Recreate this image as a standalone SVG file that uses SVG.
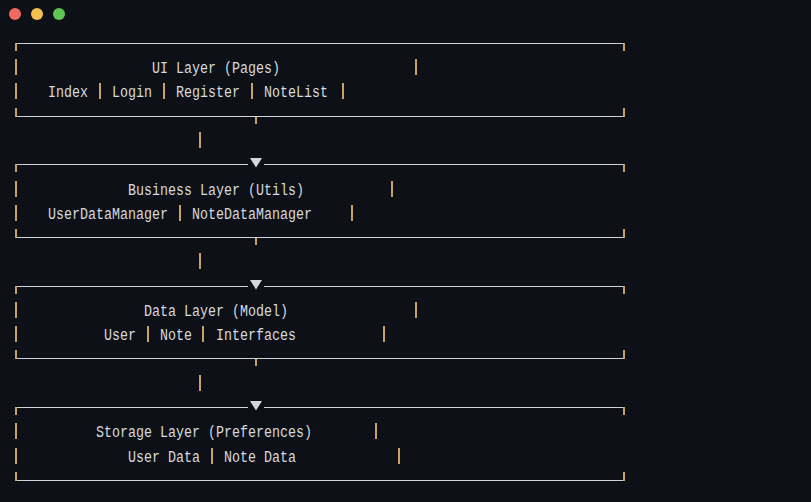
<svg xmlns="http://www.w3.org/2000/svg" width="811" height="502" viewBox="0 0 811 502">
<style>
.bg{fill:#0d1117}
.t{font-family:"Liberation Mono","DejaVu Sans Mono",monospace;font-size:16px;fill:#d6d9df}
.hl{fill:#cfd3da}
.bar{fill:#c8a263}
.tri{fill:#d4d8de}
</style>
<rect class="bg" x="0" y="0" width="811" height="502"/>
<g id="window-controls">
<circle cx="15" cy="14" r="6" fill="#ed6a5e"/>
<circle cx="37" cy="14" r="6" fill="#f5bf4f"/>
<circle cx="59" cy="14" r="6" fill="#61c554"/>
</g>
<g id="ui-layer">
<rect class="hl" x="15" y="43" width="610" height="1"/>
<rect class="hl" x="15" y="116" width="610" height="1"/>
<rect class="bar" x="15" y="43" width="2" height="8"/>
<rect class="bar" x="623" y="43" width="2" height="8"/>
<rect class="bar" x="15" y="108" width="2" height="9"/>
<rect class="bar" x="623" y="108" width="2" height="9"/>
<rect class="bar" x="15" y="59" width="2" height="16"/>
<rect class="bar" x="415" y="59" width="2" height="16"/>
<rect class="bar" x="15" y="83" width="2" height="16"/>
<rect class="bar" x="99" y="83" width="2" height="16"/>
<rect class="bar" x="163" y="83" width="2" height="16"/>
<rect class="bar" x="251" y="83" width="2" height="16"/>
<rect class="bar" x="342" y="83" width="2" height="16"/>
<text class="t" x="152" y="73.3" textLength="128" lengthAdjust="spacingAndGlyphs">UI Layer (Pages)</text>
<text class="t" x="48" y="97.3" textLength="40" lengthAdjust="spacingAndGlyphs">Index</text>
<text class="t" x="112" y="97.3" textLength="40" lengthAdjust="spacingAndGlyphs">Login</text>
<text class="t" x="176" y="97.3" textLength="64" lengthAdjust="spacingAndGlyphs">Register</text>
<text class="t" x="264" y="97.3" textLength="64" lengthAdjust="spacingAndGlyphs">NoteList</text>
</g>
<g id="business-layer">
<rect class="hl" x="15" y="164" width="233" height="1"/>
<rect class="hl" x="264" y="164" width="361" height="1"/>
<rect class="hl" x="15" y="237" width="610" height="1"/>
<rect class="bar" x="15" y="164" width="2" height="8"/>
<rect class="bar" x="623" y="164" width="2" height="8"/>
<rect class="bar" x="15" y="229" width="2" height="9"/>
<rect class="bar" x="623" y="229" width="2" height="9"/>
<rect class="bar" x="15" y="181" width="2" height="16"/>
<rect class="bar" x="391" y="181" width="2" height="16"/>
<rect class="bar" x="15" y="205" width="2" height="16"/>
<rect class="bar" x="179" y="205" width="2" height="16"/>
<rect class="bar" x="351" y="205" width="2" height="16"/>
<text class="t" x="128" y="195.3" textLength="176" lengthAdjust="spacingAndGlyphs">Business Layer (Utils)</text>
<text class="t" x="48" y="219.3" textLength="120" lengthAdjust="spacingAndGlyphs">UserDataManager</text>
<text class="t" x="192" y="219.3" textLength="120" lengthAdjust="spacingAndGlyphs">NoteDataManager</text>
</g>
<g id="data-layer">
<rect class="hl" x="15" y="286" width="233" height="1"/>
<rect class="hl" x="264" y="286" width="361" height="1"/>
<rect class="hl" x="15" y="358" width="610" height="1"/>
<rect class="bar" x="15" y="286" width="2" height="8"/>
<rect class="bar" x="623" y="286" width="2" height="8"/>
<rect class="bar" x="15" y="350" width="2" height="9"/>
<rect class="bar" x="623" y="350" width="2" height="9"/>
<rect class="bar" x="15" y="302" width="2" height="16"/>
<rect class="bar" x="415" y="302" width="2" height="16"/>
<rect class="bar" x="15" y="326" width="2" height="16"/>
<rect class="bar" x="147" y="326" width="2" height="16"/>
<rect class="bar" x="202" y="326" width="2" height="16"/>
<rect class="bar" x="383" y="326" width="2" height="16"/>
<text class="t" x="144" y="316.3" textLength="144" lengthAdjust="spacingAndGlyphs">Data Layer (Model)</text>
<text class="t" x="104" y="340.3" textLength="32" lengthAdjust="spacingAndGlyphs">User</text>
<text class="t" x="160" y="340.3" textLength="32" lengthAdjust="spacingAndGlyphs">Note</text>
<text class="t" x="216" y="340.3" textLength="80" lengthAdjust="spacingAndGlyphs">Interfaces</text>
</g>
<g id="storage-layer">
<rect class="hl" x="15" y="407" width="233" height="1"/>
<rect class="hl" x="264" y="407" width="361" height="1"/>
<rect class="hl" x="15" y="480" width="610" height="1"/>
<rect class="bar" x="15" y="407" width="2" height="8"/>
<rect class="bar" x="623" y="407" width="2" height="8"/>
<rect class="bar" x="15" y="472" width="2" height="9"/>
<rect class="bar" x="623" y="472" width="2" height="9"/>
<rect class="bar" x="15" y="423" width="2" height="16"/>
<rect class="bar" x="375" y="423" width="2" height="16"/>
<rect class="bar" x="15" y="448" width="2" height="16"/>
<rect class="bar" x="211" y="448" width="2" height="16"/>
<rect class="bar" x="398" y="448" width="2" height="16"/>
<text class="t" x="96" y="437.3" textLength="216" lengthAdjust="spacingAndGlyphs">Storage Layer (Preferences)</text>
<text class="t" x="128" y="462.3" textLength="72" lengthAdjust="spacingAndGlyphs">User Data</text>
<text class="t" x="224" y="462.3" textLength="72" lengthAdjust="spacingAndGlyphs">Note Data</text>
</g>
<g id="connectors">
<rect class="bar" x="255" y="117" width="2" height="7"/>
<rect class="bar" x="199" y="132" width="2" height="16"/>
<polygon class="tri" points="250,158 262,158 256,167.5"/>
<rect class="bar" x="255" y="238" width="2" height="7"/>
<rect class="bar" x="199" y="253" width="2" height="16"/>
<polygon class="tri" points="250,280 262,280 256,289.5"/>
<rect class="bar" x="255" y="359" width="2" height="7"/>
<rect class="bar" x="199" y="375" width="2" height="16"/>
<polygon class="tri" points="250,401 262,401 256,410.5"/>
</g>
</svg>
